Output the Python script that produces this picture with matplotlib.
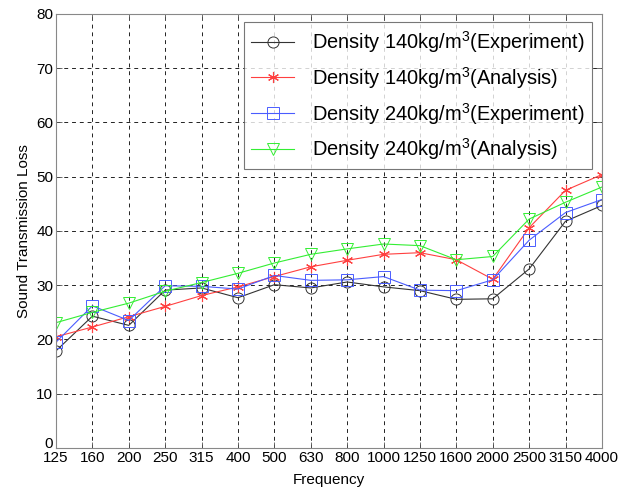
import numpy as np
import matplotlib
matplotlib.use("Agg")
import matplotlib.pyplot as plt
import matplotlib.transforms as mtransforms

plt.rcParams["font.family"] = ["Liberation Sans", "DejaVu Sans"]
plt.rcParams["mathtext.default"] = "regular"

freqs = ["125", "160", "200", "250", "315", "400", "500", "630", "800",
         "1000", "1250", "1600", "2000", "2500", "3150", "4000"]

exp_140 = [17.9, 24.3, 22.6, 29.1, 29.5, 27.7, 30.1, 29.5, 30.6,
           29.7, 29.0, 27.4, 27.5, 33.0, 41.8, 44.7]
ana_140 = [20.5, 22.3, 24.2, 26.1, 28.1, 29.7, 31.6, 33.4, 34.6,
           35.7, 36.0, 34.7, 31.1, 40.6, 47.5, 50.4]
exp_240 = [19.5, 26.2, 23.5, 29.9, 29.8, 29.3, 31.8, 30.9, 31.0,
           31.6, 29.1, 29.0, 31.0, 38.3, 43.4, 45.8]
ana_240 = [23.1, 25.0, 26.7, 28.9, 30.5, 32.2, 34.1, 35.7, 36.7,
           37.6, 37.3, 34.7, 35.3, 42.2, 45.3, 48.1]

x = np.arange(len(freqs))

fig = plt.figure(figsize=(6.27, 4.91), dpi=100)
ax = fig.add_axes([0.0893, 0.0876, 0.8707, 0.8839])

asterisk = (6, 2, 0)
ax.plot(x, exp_140, color="#333333", lw=0.8, marker="o", ms=8, mfc="none",
        mew=0.7, label="Density 140kg/m$^3$(Experiment)")
ax.plot(x, ana_140, color="#ff4040", lw=0.8, marker=asterisk, ms=8,
        mew=0.8, label="Density 140kg/m$^3$(Analysis)")
ax.plot(x, exp_240, color="#4a5cff", lw=0.8, marker="s", ms=8, mfc="none",
        mew=0.7, label="Density 240kg/m$^3$(Experiment)")
ax.plot(x, ana_240, color="#33ee33", lw=0.8, marker="v", ms=9, mfc="none",
        mew=0.7, label="Density 240kg/m$^3$(Analysis)")

ax.set_xlim(0, len(freqs) - 1)
ax.set_ylim(0, 80)
ax.set_xticks(x)
ax.set_xticklabels(freqs)
ax.set_yticks(np.arange(0, 81, 10))
ax.tick_params(direction="in", top=True, right=True, labelsize=11,
               length=4, width=0.6, color="#555555", pad=2)
for s in ax.spines.values():
    s.set_color("#888888")
    s.set_linewidth(0.8)
ax.grid(True, color="#222222", linestyle=(0, (4, 4)), linewidth=0.7)

# lift the "0" label a little, as in the original
zero_lbl = ax.get_yticklabels()[0]
zero_lbl.set_transform(zero_lbl.get_transform() +
                       mtransforms.ScaledTranslation(0, 5 / 100, fig.dpi_scale_trans))

ax.set_xlabel("Frequency", fontsize=11, labelpad=6)
ax.set_ylabel("Sound Transmission Loss", fontsize=11, labelpad=4)

leg = ax.legend(loc="upper right", bbox_to_anchor=(0.982, 0.982),
                fontsize=14.4, frameon=True, fancybox=False,
                handlelength=2.15, labelspacing=0.5, borderpad=0.35,
                handletextpad=0.9, borderaxespad=0)
leg.get_frame().set_edgecolor("#555555")
leg.get_frame().set_linewidth(0.8)

fig.savefig("out.png", dpi=100)
